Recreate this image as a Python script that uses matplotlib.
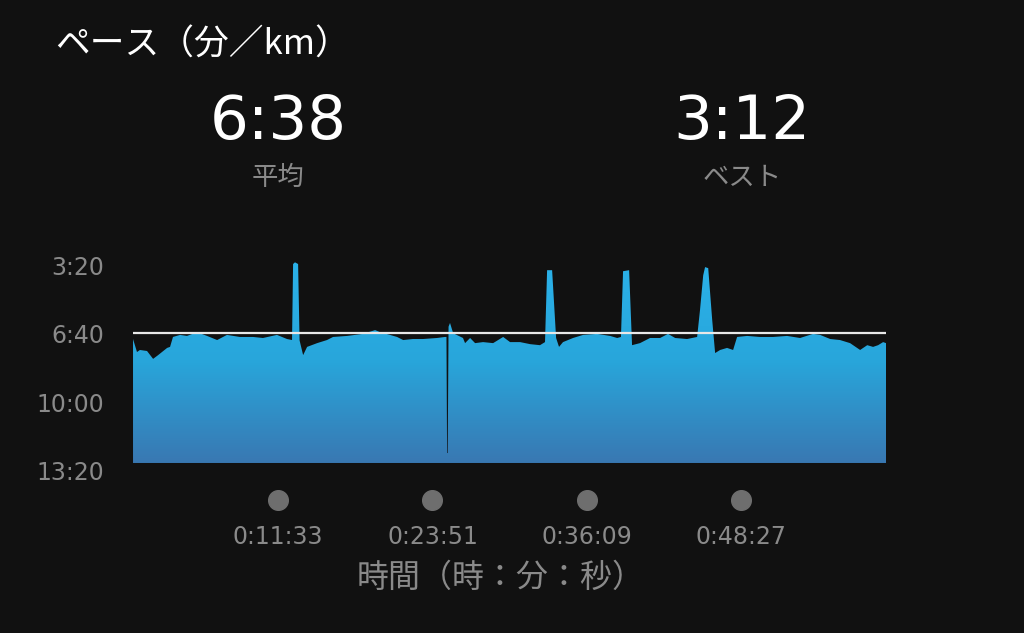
import numpy as np
import matplotlib
matplotlib.use("Agg")
import matplotlib.pyplot as plt
import matplotlib.transforms as mtransforms
from matplotlib.colors import LinearSegmentedColormap

plt.rcParams['font.family'] = ['Noto Sans CJK JP', 'DejaVu Sans']
NUM_FONT = ['DejaVu Sans']

# elapsed time (s) and pace (s per km)
elapsed = [0, 19, 33, 67, 96, 120, 163, 177, 191, 225, 258, 306, 354, 402, 449,
           511, 574, 621, 688, 736, 760, 765, 774, 789, 796, 813, 832, 880, 927,
           956, 1023, 1099, 1157, 1181, 1228, 1262, 1291, 1338, 1386, 1453, 1491,
           1498, 1501, 1504, 1508, 1515, 1530, 1577, 1587, 1611, 1635, 1673, 1721,
           1769, 1802, 1850, 1898, 1945, 1969, 1979, 2003, 2022, 2036, 2055, 2103,
           2151, 2218, 2280, 2314, 2332, 2342, 2371, 2385, 2423, 2471, 2519, 2557,
           2591, 2648, 2696, 2710, 2725, 2734, 2749, 2768, 2782, 2806, 2839, 2868,
           2887, 2935, 2997, 3059, 3126, 3188, 3250, 3284, 3332, 3379, 3427, 3475,
           3509, 3537, 3561, 3585, 3599]
pace = [416, 454, 448, 451, 474, 463, 442, 439, 410, 404, 407, 396, 407, 419, 404,
        410, 410, 413, 404, 416, 419, 197, 192, 197, 420, 463, 439, 428, 419,
        410, 407, 401, 390, 396, 404, 410, 419, 416, 416, 413, 410,
        410, 749, 749, 380, 369, 399, 413, 428, 413, 428, 425, 428,
        410, 425, 425, 431, 434, 425, 215, 215, 413, 439, 425, 413,
        404, 401, 407, 413, 410, 218, 215, 434, 428, 413, 413, 401,
        413, 416, 410, 330, 230, 206, 209, 360, 457, 448, 442, 448,
        410, 407, 410, 410, 407, 413, 401, 404, 416, 419, 428, 448,
        434, 439, 434, 425, 428]

avg_pace = 398
best_pace = 192
baseline = 778
ytick_vals = [200, 400, 600, 800]
ytick_labels = ['3:20', '6:40', '10:00', '13:20']
xtick_vals = [693, 1431, 2169, 2907]
xtick_labels = ['0:11:33', '0:23:51', '0:36:09', '0:48:27']

BG = '#111111'
GRAY = '#8a8a8a'

fig = plt.figure(figsize=(10.24, 6.33), dpi=100, facecolor=BG)
ax = fig.add_axes([0.1299, 0.2567, 0.7354, 0.3354])
ax.set_facecolor(BG)
ax.set_xlim(0, 3599)
ax.set_ylim(800, 180)
for s in ax.spines.values():
    s.set_visible(False)

# gradient area
poly = ax.fill_between(elapsed, pace, baseline, color='none', lw=0)
cmap = LinearSegmentedColormap.from_list('pace', ['#2bb2ea', '#28a6db', '#3978b2'])
grad = np.linspace(0, 1, 256).reshape(-1, 1)
img = ax.imshow(grad, cmap=cmap, aspect='auto', extent=[0, 3599, baseline, 180],
                origin='upper', zorder=2)
path = poly.get_paths()[0]
img.set_clip_path(path, transform=ax.transData)

ax.axhline(avg_pace, color='#e8e8e8', lw=1.6, zorder=3)

ax.set_yticks(ytick_vals)
ax.set_yticklabels(ytick_labels, color=GRAY, fontsize=17, family=NUM_FONT)
ax.tick_params(axis='y', length=0, pad=21)
ax.set_xticks([])

trans = mtransforms.blended_transform_factory(ax.transData, ax.transAxes)
ax.scatter(xtick_vals, [-0.139] * 4, s=200, color='#6e6e6e', transform=trans,
           clip_on=False, zorder=4)
for xv, lab in zip(xtick_vals, xtick_labels):
    ax.text(xv, -0.313, lab, transform=trans, ha='center', va='center',
            color=GRAY, fontsize=17, family=NUM_FONT)
ax.text(501 / 1024, 1 - 578 / 633, '時間（時：分：秒）', transform=fig.transFigure,
        ha='center', va='center', color=GRAY, fontsize=23)

# header
fig.text(55 / 1024, 1 - 45 / 633, 'ペース（分／km）', ha='left', va='center',
         color='white', fontsize=25)
fig.text(278 / 1024, 1 - 123 / 633, '6:38', ha='center', va='center',
         color='white', fontsize=44, family=NUM_FONT)
fig.text(278 / 1024, 1 - 177 / 633, '平均', ha='center', va='center',
         color=GRAY, fontsize=19)
fig.text(742 / 1024, 1 - 123 / 633, '3:12', ha='center', va='center',
         color='white', fontsize=44, family=NUM_FONT)
fig.text(742 / 1024, 1 - 177 / 633, 'ベスト', ha='center', va='center',
         color=GRAY, fontsize=19)

fig.savefig('out.png', dpi=100, facecolor=BG)
